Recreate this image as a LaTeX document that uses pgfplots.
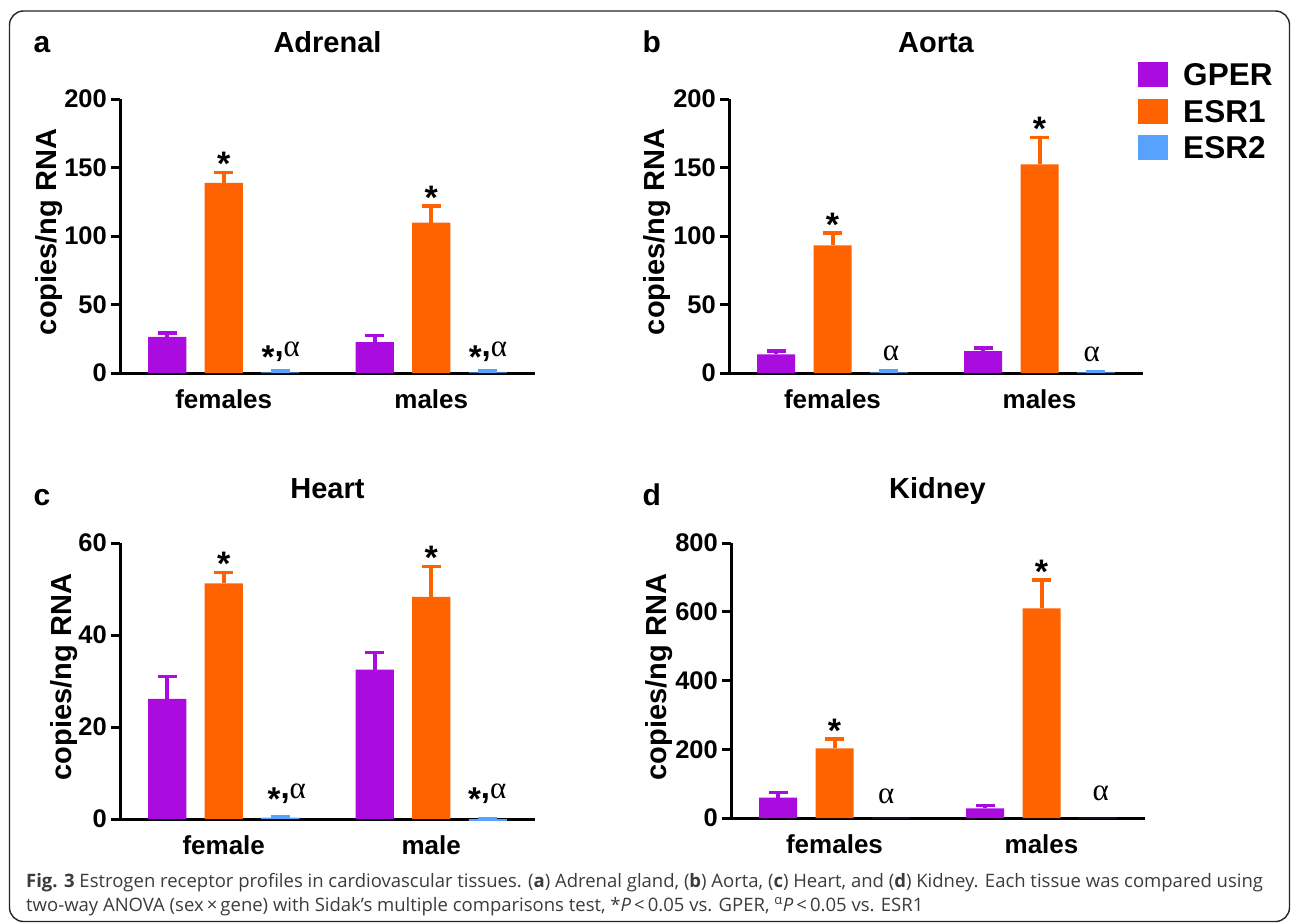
\documentclass[border=0pt]{standalone}
\usepackage{pgfplots}
\pgfplotsset{compat=1.18}
\usepackage{fontspec}
\setmainfont{Liberation Sans}
\newfontfamily\capfont{Open Sans}
\newfontfamily\seriffont{Liberation Serif}
\definecolor{gper}{HTML}{AA0CE0}
\definecolor{esra}{HTML}{FF6300}
\definecolor{esrb}{HTML}{58A2FF}
\definecolor{captext}{HTML}{3C3C3C}
\newcommand\fs[1]{\fontsize{#1}{#1}\selectfont}
\newcommand\sa{{\raisebox{-0.38em}{*},{\seriffont\mdseries\fs{31}α}}}
\newcommand\al{{\seriffont\mdseries\fs{31}α}}

\tikzset{
  stlab/.style={anchor=base, yshift=-3.5pt, font=\bfseries\fs{34}},
  salab/.style={anchor=base, font=\bfseries\fs{33}},
}
\pgfplotsset{
  panel/.style={
    scale only axis,
    xmin=-0.5, xmax=1.5, ymin=0,
    enlargelimits=false,
    axis lines*=left,
    axis line style={line width=3pt, black, -},
    clip=false,
    xtick={0,1},
    xtick style={draw=none},
    tick align=outside,
    major tick length=9pt,
    ytick style={line width=3pt, black},
    /pgf/number format/assume math mode=true,
    yticklabel style={font=\bfseries\fs{25.5}, inner sep=0pt, xshift=-4pt},
    xticklabel style={font=\bfseries\fs{26}, anchor=base, yshift=-26pt},
    ybar, bar width=0.1836,
    error bars/y dir=plus, error bars/y explicit,
  },
  ser/.style={fill=#1, draw=none, forget plot,
    error bars/error bar style={line width=4pt, #1, solid},
    error bars/error mark options={rotate=90, mark size=9.5pt, line width=3.5pt, #1, solid}},
  sernoerr/.style={fill=#1, draw=none, forget plot, error bars/y dir=none},
}

\begin{document}
\begin{tikzpicture}[x=1pt,y=1pt]
\fill[white] (0,0) rectangle (1293,-923);

% ---------------- Panel a: Adrenal
\begin{axis}[panel, at={(120pt,-373pt)}, anchor=south west, width=415pt, height=274pt,
  ymax=200, ytick={0,50,100,150,200}, xticklabels={females,males}]
\addplot[ser=gper, bar shift=-0.2725] coordinates {(0,26.3) +- (0,3) (1,22.6) +- (0,4.8)};
\addplot[ser=esra, bar shift=0] coordinates {(0,138.7) +- (0,7.7) (1,109.7) +- (0,12.3)};
\addplot[ser=esrb, bar shift=0.2725] coordinates {(0,0.5) +- (0,0.8) (1,0.5) +- (0,0.8)};
\node[stlab] at (axis cs:0,146.4) {*};
\node[stlab] at (axis cs:1,122) {*};
\node[salab] at (axis cs:0.275,0) [yshift=17pt] {\sa};
\node[salab] at (axis cs:1.273,0) [yshift=17pt] {\sa};
\end{axis}

% ---------------- Panel b: Aorta
\begin{axis}[panel, at={(729pt,-373pt)}, anchor=south west, width=414pt, height=274pt,
  ymax=200, ytick={0,50,100,150,200}, xticklabels={females,males},
  legend style={at={(0.988,1.135)}, anchor=north west, draw=none, fill=none,
    inner sep=0pt, row sep=11.5pt, font=\bfseries\fs{31.5},
    nodes={inner sep=0pt, text depth=0pt}, cells={anchor=west},
    /tikz/every odd column/.append style={column sep=15pt}},
  legend image code/.code={\fill[#1] (0pt,-12.5pt) rectangle (30pt,12.5pt);}]
\addplot[ser=gper, bar shift=-0.2725] coordinates {(0,13.6) +- (0,2.5) (1,16) +- (0,2.3)};
\addplot[ser=esra, bar shift=0] coordinates {(0,93.2) +- (0,9) (1,152.3) +- (0,19.6)};
\addplot[ser=esrb, bar shift=0.2725] coordinates {(0,0.5) +- (0,0.8) (1,0.4) +- (0,0.7)};
\addlegendimage{fill=gper, draw=none}\addlegendentry{GPER}
\addlegendimage{fill=esra, draw=none}\addlegendentry{ESR1}
\addlegendimage{fill=esrb, draw=none}\addlegendentry{ESR2}
\node[stlab] at (axis cs:0,102.2) {*};
\node[stlab] at (axis cs:1,171.9) {*};
\node[salab] at (axis cs:0.283,0) [yshift=13pt] {\al};
\node[salab] at (axis cs:1.252,0) [yshift=12pt] {\al};
\end{axis}

% ---------------- Panel c: Heart
\begin{axis}[panel, at={(120pt,-819pt)}, anchor=south west, width=415pt, height=276pt,
  ymax=60, ytick={0,20,40,60}, xticklabels={female,male}]
\addplot[ser=gper, bar shift=-0.2725] coordinates {(0,26.1) +- (0,4.9) (1,32.5) +- (0,3.7)};
\addplot[ser=esra, bar shift=0] coordinates {(0,51.2) +- (0,2.4) (1,48.3) +- (0,6.6)};
\addplot[ser=esrb, bar shift=0.2725] coordinates {(0,0.3) +- (0,0.2) (1,-0.4) +- (0,0.5)};
\node[stlab] at (axis cs:0,53.6) {*};
\node[stlab] at (axis cs:1,54.9) {*};
\node[salab] at (axis cs:0.304,0) [yshift=21pt] {\sa};
\node[salab] at (axis cs:1.27,0) [yshift=21pt] {\sa};
\end{axis}

% ---------------- Panel d: Kidney
\begin{axis}[panel, at={(731pt,-818pt)}, anchor=south west, width=414pt, height=275pt,
  ymax=800, ytick={0,200,400,600,800}, xticklabels={females,males}]
\addplot[ser=gper, bar shift=-0.2725] coordinates {(0,59) +- (0,15) (1,28) +- (0,8)};
\addplot[ser=esra, bar shift=0] coordinates {(0,202.7) +- (0,27) (1,610) +- (0,82)};
\addplot[sernoerr=esrb, bar shift=0.2725] coordinates {(0,0.5) (1,0.5)};
\node[stlab] at (axis cs:0,230) {*};
\node[stlab] at (axis cs:1,692) {*};
\node[salab] at (axis cs:0.25,0) [yshift=15pt] {\al};
\node[salab] at (axis cs:1.286,0) [yshift=18pt] {\al};
\end{axis}

% ---------------- titles, letters, y labels
\node[anchor=base west, font=\bfseries\fs{30}] at (30,-53) {a};
\node[anchor=base west, font=\bfseries\fs{30}] at (639,-53) {b};
\node[anchor=base west, font=\bfseries\fs{30}] at (30,-505) {c};
\node[anchor=base west, font=\bfseries\fs{30}] at (639,-505) {d};
\node[anchor=base, font=\bfseries\fs{29}] at (327.5,-53) {Adrenal};
\node[anchor=base, font=\bfseries\fs{29}] at (936,-53) {Aorta};
\node[anchor=base, font=\bfseries\fs{29}] at (327.5,-498) {Heart};
\node[anchor=base, font=\bfseries\fs{29}] at (937.5,-498) {Kidney};
\node[anchor=base, rotate=90, font=\bfseries\fs{29}] at (56,-232) {copies/ng RNA};
\node[anchor=base, rotate=90, font=\bfseries\fs{29}] at (664,-232) {copies/ng RNA};
\node[anchor=base, rotate=90, font=\bfseries\fs{29}] at (71,-677) {copies/ng RNA};
\node[anchor=base, rotate=90, font=\bfseries\fs{29}] at (666,-677) {copies/ng RNA};

% ---------------- caption
\node[anchor=base west, inner sep=0pt, text=captext, font=\capfont\fs{18.5}] at (26,-887)
 {\textbf{Fig. 3} Estrogen receptor profiles in cardiovascular tissues. (\textbf{a}) Adrenal gland, (\textbf{b}) Aorta, (\textbf{c}) Heart, and (\textbf{d}) Kidney. Each tissue was compared using};
\node[anchor=base west, inner sep=0pt, text=captext, font=\capfont\fs{18.5}] at (26,-911)
 {two-way ANOVA (sex\,×\,gene) with Sidak’s multiple comparisons test, *\textit{P}\,<\,0.05 vs. GPER, \textsuperscript{α}\textit{P}\,<\,0.05 vs. ESR1};

% ---------------- frame
\draw[line width=1.4pt, black!85, rounded corners=14pt] (9.5,-11) rectangle (1289.5,-921.5);

\pgfresetboundingbox
\useasboundingbox (0,0) rectangle (1293,-923);
\end{tikzpicture}
\end{document}
